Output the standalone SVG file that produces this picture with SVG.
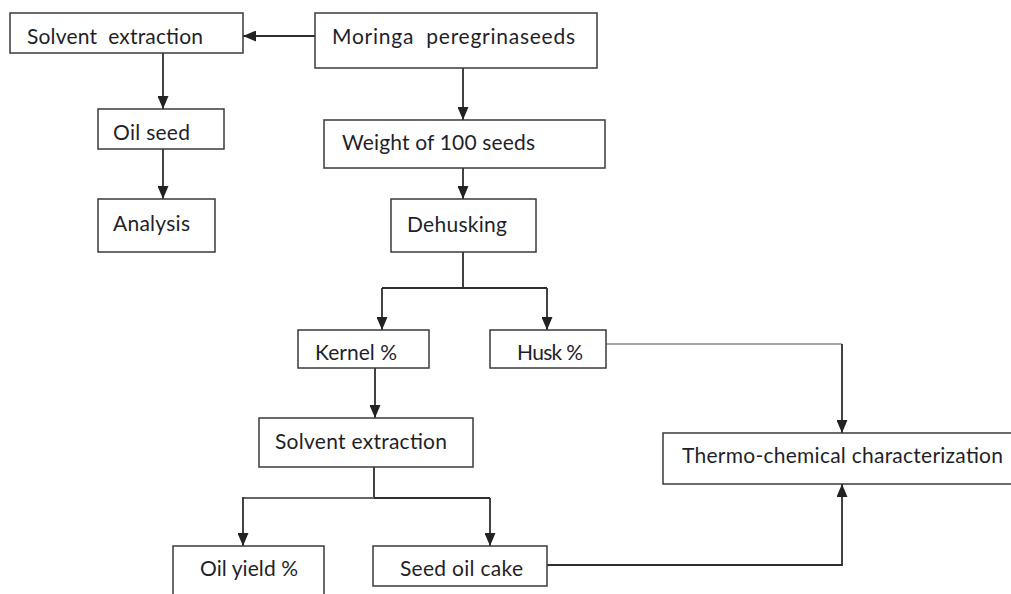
<svg xmlns="http://www.w3.org/2000/svg" width="1011" height="594" viewBox="0 0 1011 594">
<style>
.box{fill:#fff;stroke:#3a3a3a;stroke-width:1.5}
.t{font-family:Lato,"Open Sans","Liberation Sans",sans-serif;font-size:21px;fill:#1f1f2a;white-space:pre}
.c{fill:none;stroke:#2e2e2e;stroke-width:1.8}
.g{fill:none;stroke:#a8a8a8;stroke-width:1.8}
</style>
<defs>
<marker id="ah" markerUnits="userSpaceOnUse" markerWidth="13" markerHeight="11" refX="13" refY="5.5" orient="auto">
<path d="M0,0 L13,5.5 L0,11 z" fill="#222"/>
</marker>
</defs>
<rect width="1011" height="594" fill="#fff"/>
<g id="connectors">
<path class="c" d="M315,36 H243" marker-end="url(#ah)"/>
<path class="c" d="M163,53 V109" marker-end="url(#ah)"/>
<path class="c" d="M163,149 V199" marker-end="url(#ah)"/>
<path class="c" d="M463,68 V120" marker-end="url(#ah)"/>
<path class="c" d="M463,168 V199" marker-end="url(#ah)"/>
<path class="c" d="M463,252 V288 M382,288 H547"/>
<path class="c" d="M382,288 V330" marker-end="url(#ah)"/>
<path class="c" d="M547,288 V330" marker-end="url(#ah)"/>
<path class="c" d="M375,368 V418" marker-end="url(#ah)"/>
<path class="c" d="M374,467 V498 H490"/>
<path class="g" d="M243,498 H374" style="stroke:#666"/>
<path class="c" d="M243,497 V546" marker-end="url(#ah)"/>
<path class="c" d="M490,498 V546" marker-end="url(#ah)"/>
<path class="g" d="M606,344 H842"/>
<path class="c" d="M842,344 V433" marker-end="url(#ah)"/>
<path class="c" d="M547,565 H842 V484" marker-end="url(#ah)"/>
</g>
<g id="solvent-top"><rect class="box" x="10" y="13" width="233" height="40"/><text class="t" x="27" y="44" textLength="176">Solvent  extraction</text></g>
<g id="moringa"><rect class="box" x="315" y="13" width="282" height="55"/><text class="t" x="332" y="44" textLength="243">Moringa  peregrinaseeds</text></g>
<g id="weight"><rect class="box" x="324" y="120" width="281" height="48"/><text class="t" x="342" y="150" textLength="193">Weight of 100 seeds</text></g>
<g id="oilseed"><rect class="box" x="98" y="109" width="126" height="40"/><text class="t" x="113" y="140" textLength="77">Oil seed</text></g>
<g id="analysis"><rect class="box" x="98" y="199" width="117" height="53"/><text class="t" x="113" y="231" textLength="77">Analysis</text></g>
<g id="dehusking"><rect class="box" x="391" y="199" width="145" height="53"/><text class="t" x="407" y="232" textLength="100">Dehusking</text></g>
<g id="kernel"><rect class="box" x="298" y="330" width="131" height="38"/><text class="t" x="315" y="360" textLength="82">Kernel %</text></g>
<g id="husk"><rect class="box" x="490" y="330" width="116" height="38"/><text class="t" x="517" y="360" textLength="66">Husk %</text></g>
<g id="solvent-mid"><rect class="box" x="259" y="418" width="214" height="49"/><text class="t" x="275" y="449" textLength="172">Solvent extraction</text></g>
<g id="thermo"><rect class="box" x="663" y="433" width="360" height="51"/><text class="t" x="682" y="463" textLength="321">Thermo-chemical characterization</text></g>
<g id="oilyield"><rect class="box" x="173" y="546" width="151" height="60"/><text class="t" x="200" y="576" textLength="98">Oil yield %</text></g>
<g id="seedcake"><rect class="box" x="373" y="546" width="174" height="40"/><text class="t" x="400" y="576" textLength="123">Seed oil cake</text></g>
</svg>
